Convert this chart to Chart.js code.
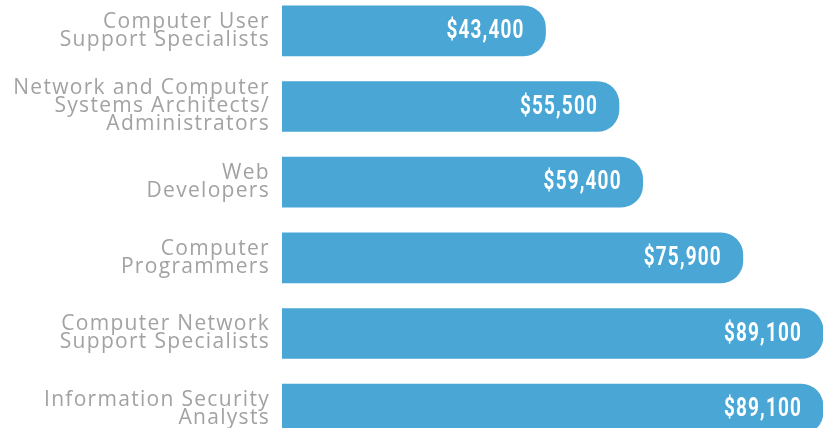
<!DOCTYPE html>
<html>
<head>
<meta charset="utf-8">
<script src="https://cdn.jsdelivr.net/npm/chart.js@4"></script>
<style>
  html, body { margin: 0; padding: 0; background: #fff; overflow: hidden; }
  #wrap { position: absolute; left: 0; top: -7px; width: 823px; height: 454px; }
</style>
</head>
<body>
<div id="wrap"><canvas id="salaryChart"></canvas></div>
<script>
const jobTitles = [
  ["Computer User", "Support Specialists"],
  ["Network and Computer", "Systems Architects/", "Administrators"],
  ["Web", "Developers"],
  ["Computer", "Programmers"],
  ["Computer Network", "Support Specialists"],
  ["Information Security", "Analysts"]
];
const salaries = [43400, 55500, 59400, 75900, 89100, 89100];

const barColor = "#4aa6d5";
const labelColor = "#a2a2a2";

// letter spacing for the category labels on the left
const spacingPlugin = {
  id: "spacing",
  beforeDraw(chart) {
    chart.ctx.letterSpacing = "1.3px";
  },
  afterDraw(chart) {
    chart.ctx.letterSpacing = "0px";
  }
};

// white salary text inside the end of each bar (squeezed to look condensed)
const valueLabels = {
  id: "valueLabels",
  afterDatasetsDraw(chart) {
    const ctx = chart.ctx;
    const meta = chart.getDatasetMeta(0);
    const squeeze = 0.76;
    meta.data.forEach((bar, i) => {
      const text = "$" + salaries[i].toLocaleString("en-US");
      ctx.save();
      ctx.letterSpacing = "1.5px";
      ctx.font = 'bold 25px Roboto, "Liberation Sans", sans-serif';
      ctx.fillStyle = "#ffffff";
      ctx.textAlign = "right";
      ctx.textBaseline = "middle";
      ctx.translate(bar.x - 21, bar.y + 1);
      ctx.scale(squeeze, 1);
      ctx.fillText(text, 0, 0);
      ctx.restore();
    });
  }
};

new Chart(document.getElementById("salaryChart"), {
  type: "bar",
  data: {
    labels: jobTitles,
    datasets: [{
      data: salaries,
      backgroundColor: barColor,
      borderRadius: { topRight: 22, bottomRight: 22 },
      borderSkipped: "start",
      barThickness: 50,
      categoryPercentage: 1,
      barPercentage: 1
    }]
  },
  options: {
    indexAxis: "y",
    responsive: true,
    maintainAspectRatio: false,
    animation: false,
    layout: { padding: 0 },
    plugins: {
      legend: { display: false },
      tooltip: { enabled: false }
    },
    scales: {
      x: {
        display: false,
        min: 0,
        max: 89100
      },
      y: {
        grid: { display: false, drawTicks: false },
        border: { display: false },
        ticks: {
          color: labelColor,
          padding: 12,
          labelOffset: 0,
          font: { family: '"Open Sans", sans-serif', size: 21, lineHeight: "18px" }
        },
        afterFit(scale) {
          scale.width = 282;
          // no extra room for the tall labels, bars fill the whole height
          scale.paddingTop = 0;
          scale.paddingBottom = 0;
        }
      }
    }
  },
  plugins: [spacingPlugin, valueLabels]
});
</script>
</body>
</html>
